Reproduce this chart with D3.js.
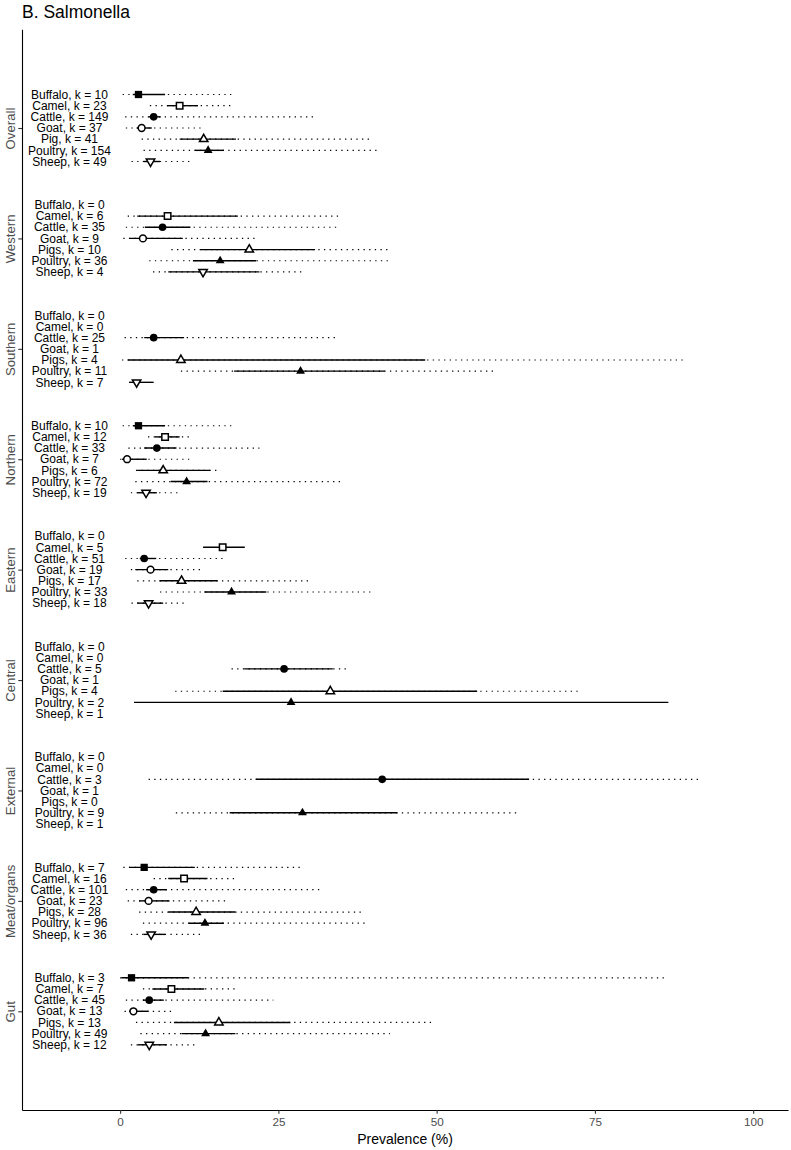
<!DOCTYPE html>
<html>
<head>
<meta charset="utf-8">
<script src="https://cdn.jsdelivr.net/npm/d3@7"></script>
<style>
body { margin: 0; background: #fff; }
svg { font-family: "Liberation Sans", Arial, Helvetica, sans-serif; }
</style>
</head>
<body>
<svg id="chart"></svg>
<script>
const groups = ["Overall", "Western", "Southern", "Northern", "Eastern", "Central", "External", "Meat/organs", "Gut"];
const species = ["Buffalo", "Camel", "Cattle", "Goat", "Pigs", "Poultry", "Sheep"];
const overallSpecies = ["Buffalo", "Camel", "Cattle", "Goat", "Pig", "Poultry", "Sheep"];
const xTicks = [0, 25, 50, 75, 100];

// studies per row (k)
const kCounts = [
  [10, 23, 149, 37, 41, 154, 49],
  [0, 6, 35, 9, 10, 36, 4],
  [0, 0, 25, 1, 4, 11, 7],
  [10, 12, 33, 7, 6, 72, 19],
  [0, 5, 51, 19, 17, 33, 18],
  [0, 0, 5, 1, 4, 2, 1],
  [0, 0, 3, 1, 0, 9, 1],
  [7, 16, 101, 23, 28, 96, 36],
  [3, 7, 45, 13, 13, 49, 12]
];

// pooled prevalence (%)
const estimates = [
  [2.9, 9.4, 5.3, 3.4, 13.2, 13.9, 4.8],
  [null, 7.5, 6.7, 3.6, 20.4, 15.8, 13.1],
  [null, null, 5.3, null, 9.6, 28.5, 2.6],
  [2.9, 7.1, 5.8, 1.1, 6.8, 10.5, 4.1],
  [null, 16.2, 3.8, 4.8, 9.7, 17.6, 4.5],
  [null, null, 25.9, null, 33.2, 27.0, null],
  [null, null, 41.4, null, null, 28.8, null],
  [3.8, 10.1, 5.3, 4.5, 12.0, 13.4, 4.9],
  [1.8, 8.1, 4.6, 2.1, 15.6, 13.5, 4.6]
];

// 95% confidence interval
const ciLower = [
  [2.0, 7.4, 4.5, 2.6, 9.4, 11.8, 3.7],
  [null, 2.7, 3.9, 1.5, 12.7, 11.5, 7.6],
  [null, null, 3.8, null, 1.2, 18.0, 1.4],
  [2.0, 5.5, 3.8, 0.3, 2.7, 8.0, 2.7],
  [null, 13.1, 3.1, 2.4, 6.2, 13.3, 2.7],
  [null, null, 19.6, null, 16.2, 2.2, null],
  [null, null, 21.4, null, null, 17.3, null],
  [1.4, 7.6, 4.1, 3.0, 7.6, 10.8, 3.7],
  [0.2, 5.1, 3.6, 1.4, 8.5, 9.7, 2.8]
];
const ciUpper = [
  [7.1, 12.3, 6.4, 5.0, 18.3, 16.4, 6.3],
  [null, 18.6, 11.1, 9.9, 30.8, 21.5, 22.0],
  [null, null, 10.1, null, 48.2, 41.8, 5.3],
  [7.1, 9.4, 8.9, 4.2, 14.2, 13.8, 5.8],
  [null, 19.7, 5.7, 7.6, 15.4, 23.1, 6.8],
  [null, null, 33.6, null, 56.4, 86.6, null],
  [null, null, 64.6, null, null, 43.8, null],
  [11.8, 13.8, 7.4, 7.8, 18.2, 16.4, 7.1],
  [10.8, 13.3, 6.9, 4.5, 26.9, 18.2, 7.4]
];

// 95% prediction interval
const piLower = [
  [0.4, 4.7, 0.8, 0.9, 3.4, 3.7, 1.8],
  [null, 1.2, 0.9, 0.5, 8.1, 4.6, 5.2],
  [null, null, 0.7, null, 0.3, 9.6, null],
  [0.4, 4.4, 1.3, 0.0, 2.5, 2.4, 1.7],
  [null, null, 0.8, 1.7, 2.7, 6.3, 1.8],
  [null, null, 17.6, null, 8.7, null, null],
  [null, null, 4.5, null, null, 8.8, null],
  [0.5, 5.3, 0.9, 1.2, 3.0, 3.6, 1.7],
  [0.0, 3.6, 0.9, 0.7, 2.5, 3.2, 1.7]
];
const piUpper = [
  [18.2, 17.8, 30.5, 13.1, 39.7, 40.9, 11.3],
  [null, 34.8, 34.6, 21.7, 42.6, 42.7, 29.2],
  [null, null, 34.5, null, 89.0, 59.3, null],
  [18.2, 11.1, 22.0, 11.5, 15.9, 35.2, 9.5],
  [null, null, 16.8, 13.1, 29.9, 40.0, 10.4],
  [null, null, 36.3, null, 72.4, null, null],
  [null, null, 91.4, null, null, 63.0, null],
  [28.6, 18.4, 31.7, 17.1, 38.5, 39.2, 13.0],
  [86.2, 18.4, 24.2, 8.3, 49.3, 42.6, 12.0]
];

const width = 791, height = 1150;
const svg = d3.select("#chart").attr("width", width).attr("height", height);

const x = d3.scaleLinear().domain([-15.5, 105.5]).range([22, 788]);
const yGroup = d3.scalePoint().domain(groups).range([29.3, 1110]).padding(0.894);
const yRow = d3.scalePoint().domain(species).range([-33.5, 33.5]);

let rows = [];
groups.forEach((g, gi) => {
  species.forEach((s, si) => {
    rows.push({
      group: g,
      species: s,
      name: gi === 0 ? overallSpecies[si] : s,
      k: kCounts[gi][si],
      est: estimates[gi][si],
      lo: ciLower[gi][si],
      hi: ciUpper[gi][si],
      plo: piLower[gi][si],
      phi: piUpper[gi][si],
      y: yGroup(g) + yRow(s)
    });
  });
});

// title
svg.append("text")
  .attr("x", 22)
  .attr("y", 18.3)
  .attr("font-size", 17.5)
  .attr("fill", "#000")
  .text("B. Salmonella");

// axes
let xAxis = svg.append("g")
  .attr("transform", "translate(0,1110)")
  .call(d3.axisBottom(x).tickValues(xTicks).tickSize(3.7).tickSizeOuter(0).tickPadding(4));
xAxis.select(".domain").attr("stroke", "#000").attr("stroke-width", 1.1);
xAxis.selectAll(".tick line").attr("stroke", "#333").attr("stroke-width", 1.1);
xAxis.selectAll(".tick text")
  .attr("font-size", 11.7)
  .attr("fill", "#4d4d4d")
  .attr("font-family", "Liberation Sans, Arial, sans-serif");

let yAxis = svg.append("g")
  .attr("transform", "translate(22,0)")
  .call(d3.axisLeft(yGroup).tickSize(3.7).tickSizeOuter(0));
yAxis.select(".domain").attr("stroke", "#000").attr("stroke-width", 1.1);
yAxis.selectAll(".tick line").attr("stroke", "#333").attr("stroke-width", 1.1);
yAxis.selectAll(".tick text")
  .attr("font-size", 13.2)
  .attr("fill", "#4d4d4d")
  .attr("font-family", "Liberation Sans, Arial, sans-serif")
  .attr("text-anchor", "middle")
  .attr("transform", "rotate(-90)")
  .attr("x", 0)
  .attr("y", -7.5)
  .attr("dy", null);

svg.append("text")
  .attr("x", (x.range()[0] + x.range()[1]) / 2)
  .attr("y", 1144)
  .attr("text-anchor", "middle")
  .attr("font-size", 14)
  .attr("fill", "#000")
  .text("Prevalence (%)");

// row labels
svg.append("g").selectAll("text")
  .data(rows)
  .enter()
  .append("text")
  .attr("x", x(-8))
  .attr("y", d => d.y)
  .attr("dy", "0.35em")
  .attr("text-anchor", "middle")
  .attr("font-size", 12)
  .attr("fill", "#000")
  .text(d => `${d.name}, k = ${d.k}`);

// prediction intervals (dotted)
svg.append("g").selectAll("line")
  .data(rows.filter(d => d.plo !== null))
  .enter()
  .append("line")
  .attr("x1", d => x(d.plo))
  .attr("x2", d => x(d.phi))
  .attr("y1", d => d.y)
  .attr("y2", d => d.y)
  .attr("stroke", "#000")
  .attr("stroke-width", 1.2)
  .attr("stroke-dasharray", "1.3,4.35");

// confidence intervals (solid)
svg.append("g").selectAll("line")
  .data(rows.filter(d => d.lo !== null))
  .enter()
  .append("line")
  .attr("x1", d => x(d.lo))
  .attr("x2", d => x(d.hi))
  .attr("y1", d => d.y)
  .attr("y2", d => d.y)
  .attr("stroke", "#000")
  .attr("stroke-width", 1.4);

// point estimates
const shapes = {
  Buffalo: { type: d3.symbolSquare, size: 53, filled: true, rot: 0 },
  Camel: { type: d3.symbolSquare, size: 42, filled: false, rot: 0 },
  Cattle: { type: d3.symbolCircle, size: 46, filled: true, rot: 0 },
  Goat: { type: d3.symbolCircle, size: 36, filled: false, rot: 0 },
  Pigs: { type: d3.symbolTriangle, size: 31, filled: false, rot: 0 },
  Poultry: { type: d3.symbolTriangle, size: 34, filled: true, rot: 0 },
  Sheep: { type: d3.symbolTriangle, size: 31, filled: false, rot: 180 }
};

svg.append("g").selectAll("path")
  .data(rows.filter(d => d.est !== null))
  .enter()
  .append("path")
  .attr("d", d => d3.symbol().type(shapes[d.species].type).size(shapes[d.species].size)())
  .attr("transform", d => `translate(${x(d.est)},${d.y}) rotate(${shapes[d.species].rot})`)
  .attr("fill", d => shapes[d.species].filled ? "#000" : "#fff")
  .attr("stroke", "#000")
  .attr("stroke-width", d => shapes[d.species].filled ? 0 : 1.5);
</script>
</body>
</html>
